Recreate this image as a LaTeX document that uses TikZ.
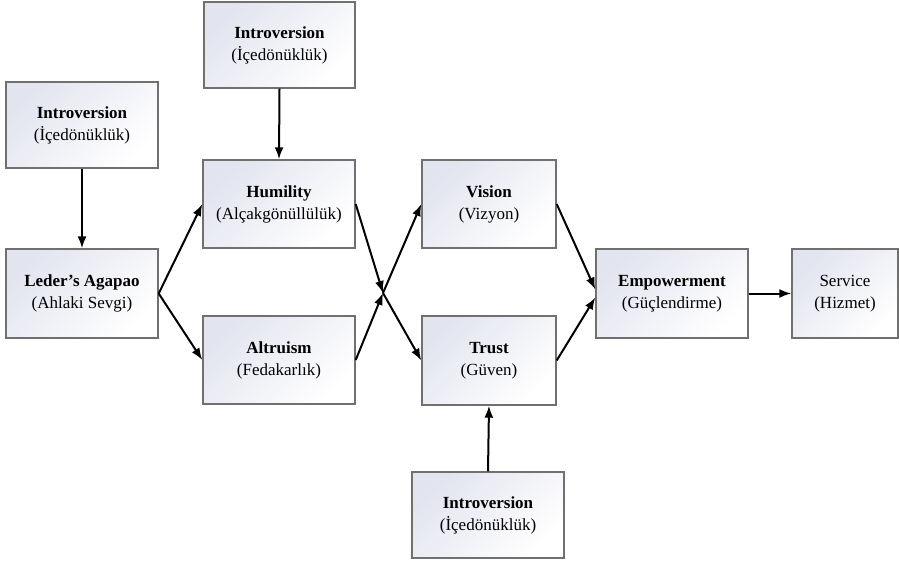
\documentclass[tikz,border=0pt]{standalone}
\usepackage{fontspec}
\setmainfont{Liberation Serif}
\usetikzlibrary{arrows.meta}
\definecolor{boxedge}{HTML}{707070}
\definecolor{boxshade}{HTML}{E2E4EF}
\begin{document}
\begin{tikzpicture}[x=1pt,y=1pt,
  box/.style={rectangle, draw=boxedge, line width=1.4pt, top color=boxshade, bottom color=white, shading angle=45,
    align=center, inner sep=0pt, font=\fontsize{17}{22}\selectfont},
  conn/.style={black, line width=2pt, -{Latex[length=12pt,width=9pt]}}]
\useasboundingbox (0,0) rectangle (899,-565);
\node[box, minimum width=152pt, minimum height=86pt] (i1) at (82,-125) {\textbf{Introversion}\\(İçedönüklük)};
\node[box, minimum width=152pt, minimum height=89pt] (lead) at (82,-293.5) {\textbf{Leder’s Agapao}\\(Ahlaki Sevgi)};
\node[box, minimum width=151pt, minimum height=86pt] (i2) at (279.5,-45) {\textbf{Introversion}\\(İçedönüklük)};
\node[box, minimum width=152pt, minimum height=88pt] (hum) at (279,-204) {\textbf{Humility}\\(Alçakgönüllülük)};
\node[box, minimum width=152pt, minimum height=88pt] (alt) at (279,-360) {\textbf{Altruism}\\(Fedakarlık)};
\node[box, minimum width=134pt, minimum height=88pt] (vis) at (489,-204) {\textbf{Vision}\\(Vizyon)};
\node[box, minimum width=134pt, minimum height=89pt] (tru) at (489,-360.5) {\textbf{Trust}\\(Güven)};
\node[box, minimum width=152pt, minimum height=86pt] (i3) at (488,-515) {\textbf{Introversion}\\(İçedönüklük)};
\node[box, minimum width=152pt, minimum height=89pt] (emp) at (672,-293.5) {\textbf{Empowerment}\\(Güçlendirme)};
\node[box, minimum width=106pt, minimum height=89pt] (ser) at (845,-293.5) {Service\\(Hizmet)};
\coordinate (J) at (383,-293);
\draw[conn] (i1.south) -- (lead.north);
\draw[conn] (i2.south) -- (hum.north);
\draw[conn] (i3.north) -- (tru.south);
\draw[conn] (lead.east) -- (hum.west);
\draw[conn] (lead.east) -- (alt.west);
\draw[conn] (hum.east) -- (J);
\draw[conn] (alt.east) -- (J);
\draw[conn] (J) -- (vis.west);
\draw[conn] (J) -- (tru.west);
\draw[conn] (vis.east) -- ([yshift=4pt]emp.west);
\draw[conn] (tru.east) -- ([yshift=-4pt]emp.west);
\draw[conn] (emp.east) -- (ser.west);
\end{tikzpicture}
\end{document}
